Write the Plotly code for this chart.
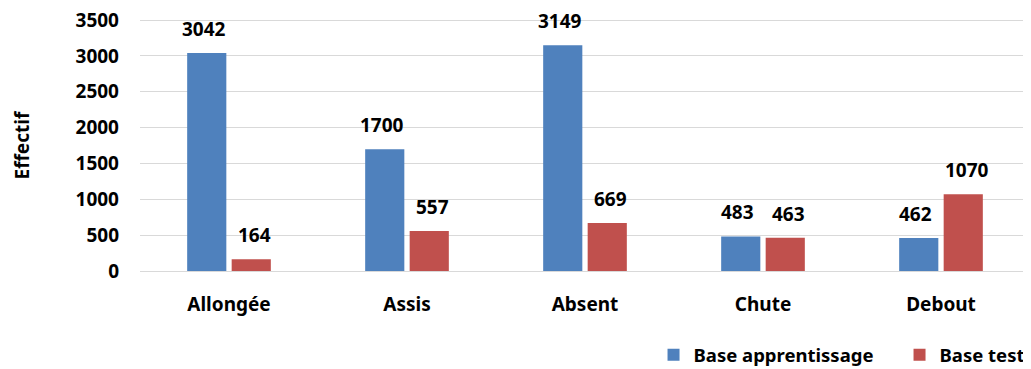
import plotly.graph_objects as go

# categories and values
categories = ["Allongée", "Assis", "Absent", "Chute", "Debout"]
apprentissage = [3042, 1700, 3149, 483, 462]
test = [164, 557, 669, 463, 1070]
series_names = ["Base apprentissage", "Base test"]
y_ticks = [0, 500, 1000, 1500, 2000, 2500, 3000, 3500]

BLUE = "#4F81BD"
RED = "#C0504D"
FONT = "Noto Sans"
BOLD = dict(family=FONT, size=19, color="black", weight="bold")

fig = go.Figure()
fig.add_trace(go.Bar(x=categories, y=apprentissage, name=series_names[0],
                     marker=dict(color=BLUE, line=dict(width=0))))
fig.add_trace(go.Bar(x=categories, y=test, name=series_names[1],
                     marker=dict(color=RED, line=dict(width=0))))

# data labels above each bar
annotations = []
for vals, shift in ((apprentissage, -25.5), (test, 25.5)):
    for cat, v in zip(categories, vals):
        annotations.append(dict(
            x=cat, y=v, xref="x", yref="y", text=str(v), showarrow=False,
            xshift=shift, yshift=24, font=BOLD,
        ))

annotations.append(dict(
    x=-0.1326, y=0.5, xref="paper", yref="paper", text="Effectif", textangle=-90,
    xanchor="center", yanchor="middle", showarrow=False, font=BOLD,
))

# page body has an 8px margin, so the figure is 8px smaller than the window
fig.update_layout(
    width=1023, height=361,
    margin=dict(l=132, r=1, t=10, b=98, autoexpand=False),
    paper_bgcolor="white", plot_bgcolor="white",
    barmode="group", bargap=0.5, bargroupgap=0.12,
    font=BOLD,
    showlegend=True,
    legend=dict(orientation="h", x=0.577, xanchor="left", y=-0.333, yanchor="middle",
                font=dict(family=FONT, size=18.5, color="black", weight="bold"),
                itemwidth=30, entrywidth=201, traceorder="normal"),
    annotations=annotations,
)
fig.update_xaxes(showgrid=False, showline=False, ticks="", ticklabelstandoff=20, automargin=False)
# range a touch above 3500 so the top gridline is not dropped at the plot edge
fig.update_yaxes(range=[0, 3530], tickvals=y_ticks, showgrid=True, gridcolor="#D9D9D9",
                 gridwidth=1.3, zeroline=True, zerolinecolor="#D9D9D9", zerolinewidth=1.3,
                 ticks="", ticklabelstandoff=20, automargin=False, ticklabeloverflow="allow")

fig.write_html("out.html")
